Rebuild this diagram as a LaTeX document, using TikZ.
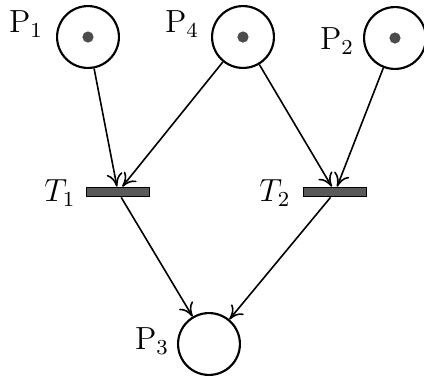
\documentclass[tikz,border=0pt]{standalone}
\usetikzlibrary{arrows.meta}

\tikzset{
  place/.style={circle, draw, thick, minimum size=23.2pt, inner sep=0pt},
  trans/.style={rectangle, draw, fill=black!65, minimum width=23.6pt, minimum height=3.6pt, inner sep=0pt},
  arc/.style={-{To[length=5pt,width=6pt]}, semithick},
  tag/.style={font=\large},
}
\newcommand{\token}[1]{
    \fill[black!70] (#1) circle (2.1pt);
}

\begin{document}
\begin{tikzpicture}[x=0.375pt, y=-0.375pt]
  \useasboundingbox (0,0) rectangle (424,377);

  % places
  \node[place] (p1) at (88,37) {};
  \node[place] (p4) at (243,37) {};
  \node[place] (p2) at (395,38) {};
  \node[place] (p3) at (209,344) {};
  \token{p1}
  \token{p4}
  \token{p2}

  % transitions
  \node[trans] (t1) at (118,192) {};
  \node[trans] (t2) at (335,192) {};

  % labels
  \node[tag] (lp1) at (26,24) {$\mathrm{P}_1$};
  \node[tag] (lp4) at (182,24) {$\mathrm{P}_4$};
  \node[tag] (lp2) at (337,41) {$\mathrm{P}_2$};
  \node[tag] (lp3) at (152,341) {$\mathrm{P}_3$};
  \node[tag] (lt1) at (60,193) {$T_1$};
  \node[tag] (lt2) at (275,193) {$T_2$};

  % arcs
  \draw[arc] (p1) -- (t1);
  \draw[arc] (p4) -- (t1);
  \draw[arc] (p4) -- (t2);
  \draw[arc] (p2) -- (t2);
  \draw[arc] (t1) -- (p3);
  \draw[arc] (t2) -- (p3);

\end{tikzpicture}
\end{document}
